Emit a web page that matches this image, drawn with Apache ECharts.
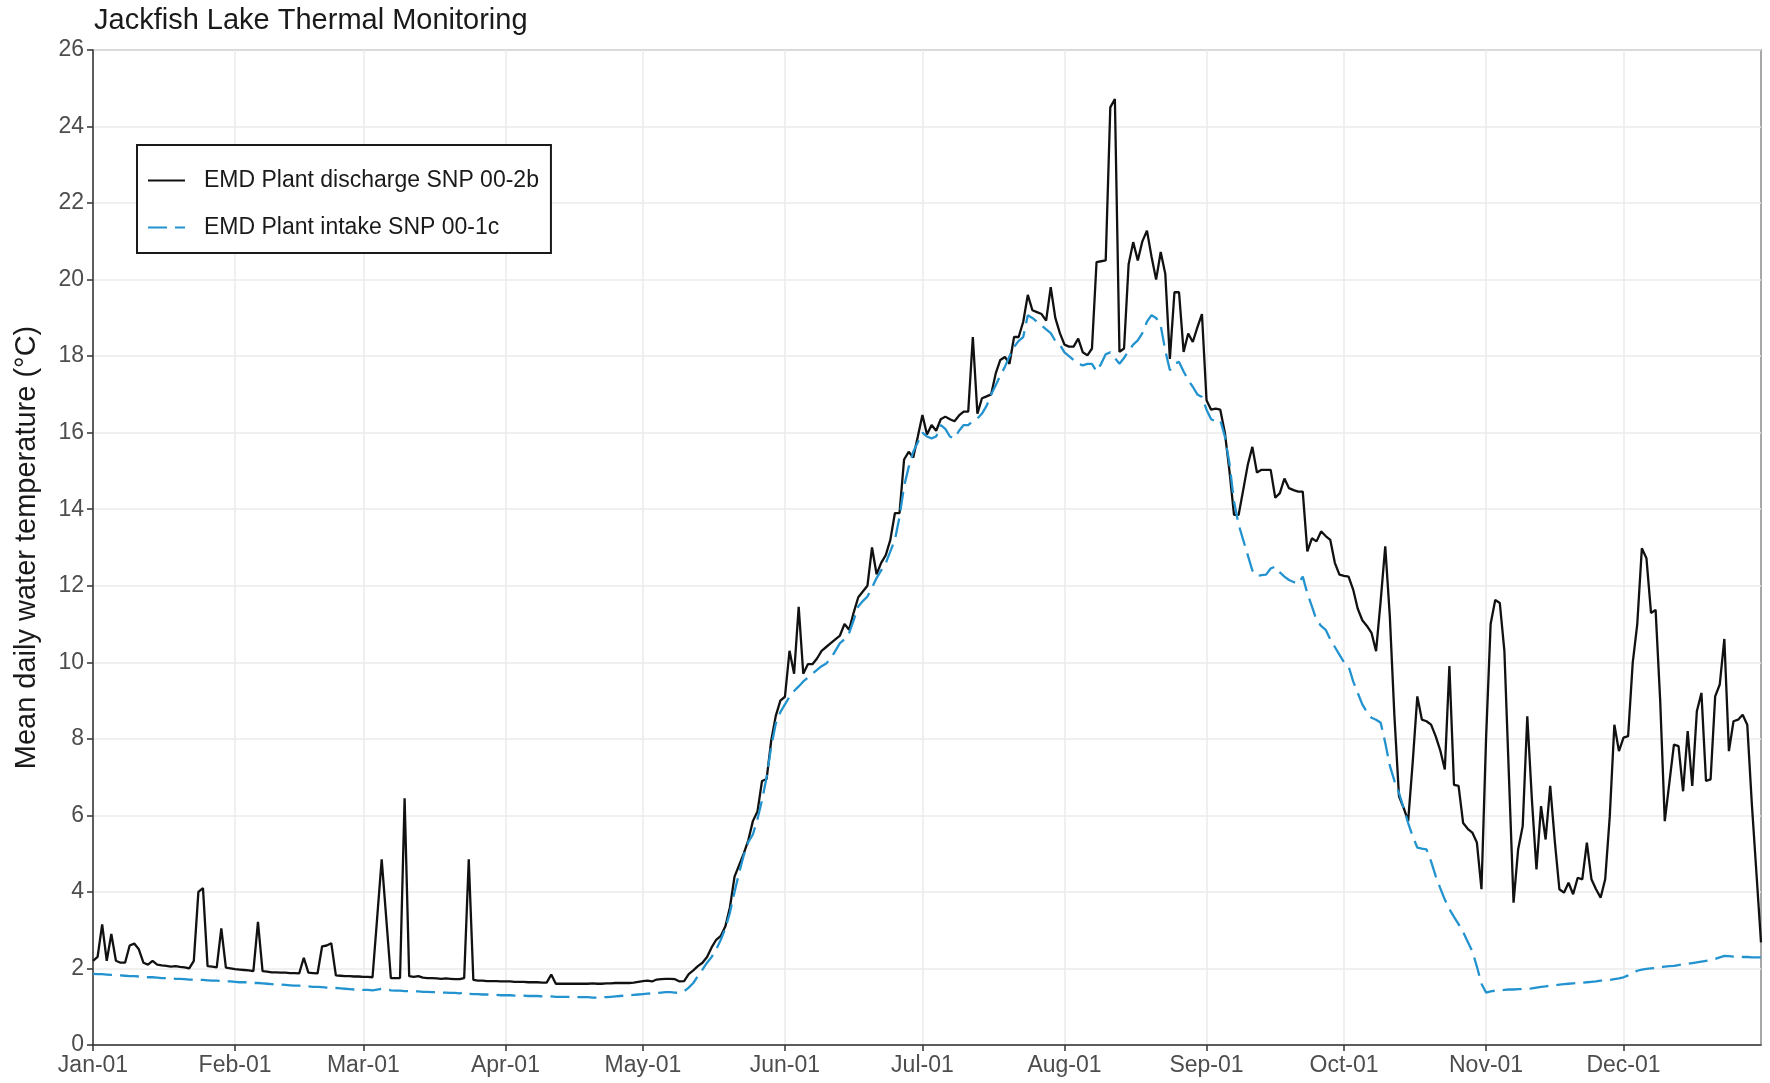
<!DOCTYPE html>
<html>
<head>
<meta charset="utf-8">
<title>Jackfish Lake Thermal Monitoring</title>
<script src="https://cdn.jsdelivr.net/npm/echarts@6/dist/echarts.min.js"></script>
<style>
  html, body { margin: 0; padding: 0; background: #ffffff; }
  #chart { width: 1770px; height: 1083px; }
</style>
</head>
<body>
<div id="chart"></div>
<script>
// Calendar used for the daily category axis (non-leap year)
const monthNames = ['Jan', 'Feb', 'Mar', 'Apr', 'May', 'Jun', 'Jul', 'Aug', 'Sep', 'Oct', 'Nov', 'Dec'];
const monthDays = [31, 28, 31, 30, 31, 30, 31, 31, 30, 31, 30, 31];

const seriesNames = ['EMD Plant discharge SNP 00-2b', 'EMD Plant intake SNP 00-1c'];

// Mean daily water temperature (°C), one value per day, one line per month
const discharge = [
  2.2, 2.3, 3.15, 2.2, 2.9, 2.2, 2.15, 2.15, 2.6, 2.65, 2.5, 2.15, 2.1, 2.2, 2.1, 2.08, 2.07, 2.05, 2.06, 2.04, 2.03, 2.0, 2.2, 4.0, 4.1, 2.06, 2.05, 2.03, 3.05, 2.02, 2.0,
  1.98, 1.97, 1.96, 1.95, 1.93, 3.22, 1.93, 1.92, 1.9, 1.9, 1.89, 1.89, 1.88, 1.88, 1.87, 2.28, 1.89, 1.88, 1.87, 2.58, 2.6, 2.66, 1.82, 1.81, 1.8, 1.8, 1.79, 1.79,
  1.78, 1.78, 1.77, 3.3, 4.85, 3.3, 1.75, 1.75, 1.75, 6.45, 1.8, 1.78, 1.8, 1.76, 1.75, 1.75, 1.74, 1.73, 1.74, 1.73, 1.72, 1.72, 1.75, 4.85, 1.7, 1.68, 1.68, 1.67, 1.67, 1.67, 1.66,
  1.66, 1.66, 1.65, 1.65, 1.65, 1.64, 1.64, 1.64, 1.63, 1.63, 1.84, 1.6, 1.6, 1.6, 1.6, 1.6, 1.6, 1.6, 1.6, 1.61, 1.6, 1.6, 1.61, 1.61, 1.62, 1.62, 1.62, 1.62, 1.63, 1.65,
  1.67, 1.68, 1.66, 1.71, 1.72, 1.73, 1.73, 1.72, 1.66, 1.67, 1.85, 1.95, 2.06, 2.15, 2.3, 2.55, 2.75, 2.85, 3.1, 3.6, 4.4, 4.7, 5.0, 5.35, 5.85, 6.1, 6.9, 6.95, 7.95, 8.6, 9.0,
  9.1, 10.3, 9.7, 11.45, 9.7, 9.95, 9.95, 10.1, 10.3, 10.4, 10.5, 10.6, 10.7, 11.0, 10.85, 11.3, 11.7, 11.85, 12.0, 13.0, 12.3, 12.6, 12.8, 13.2, 13.9, 13.9, 15.3, 15.5, 15.35, 15.9,
  16.46, 15.95, 16.2, 16.05, 16.35, 16.42, 16.35, 16.3, 16.45, 16.55, 16.55, 18.5, 16.5, 16.9, 16.95, 17.0, 17.55, 17.9, 17.98, 17.8, 18.5, 18.5, 18.9, 19.6, 19.2, 19.15, 19.1, 18.93, 19.8, 19.0, 18.6,
  18.3, 18.25, 18.25, 18.46, 18.1, 18.02, 18.2, 20.46, 20.48, 20.5, 24.5, 24.72, 18.11, 18.2, 20.4, 20.98, 20.5, 21.0, 21.28, 20.6, 20.0, 20.72, 20.15, 17.93, 19.67, 19.67, 18.11, 18.59, 18.37, 18.75, 19.1,
  16.85, 16.6, 16.63, 16.6, 16.0, 15.0, 13.85, 13.85, 14.5, 15.16, 15.63, 14.96, 15.03, 15.03, 15.03, 14.3, 14.42, 14.8, 14.55, 14.5, 14.46, 14.46, 12.9, 13.24, 13.16, 13.42, 13.3, 13.2, 12.6, 12.29,
  12.26, 12.24, 11.9, 11.4, 11.1, 10.95, 10.77, 10.29, 11.6, 13.03, 11.2, 8.6, 6.5, 6.2, 5.85, 7.4, 9.11, 8.5, 8.46, 8.37, 8.07, 7.7, 7.2, 9.9, 6.8, 6.77, 5.8, 5.65, 5.55, 5.29, 4.07,
  8.0, 11.0, 11.63, 11.55, 10.3, 7.0, 3.72, 5.11, 5.72, 8.59, 6.42, 4.59, 6.24, 5.37, 6.77, 5.33, 4.07, 3.98, 4.24, 3.94, 4.37, 4.33, 5.29, 4.33, 4.07, 3.85, 4.33, 5.98, 8.37, 7.68,
  8.03, 8.07, 9.98, 11.0, 12.98, 12.72, 11.29, 11.37, 9.0, 5.85, 6.85, 7.85, 7.81, 6.63, 8.2, 6.77, 8.72, 9.2, 6.9, 6.94, 9.11, 9.42, 10.61, 7.68, 8.46, 8.5, 8.63, 8.37, 6.3, 4.5, 2.68
];

const intake = [
  1.86, 1.85, 1.85, 1.84, 1.83, 1.83, 1.82, 1.81, 1.8, 1.8, 1.79, 1.78, 1.77, 1.77, 1.76, 1.75, 1.75, 1.74, 1.73, 1.73, 1.72, 1.71, 1.71, 1.7, 1.7, 1.69, 1.68, 1.68, 1.67, 1.66, 1.66,
  1.65, 1.64, 1.64, 1.63, 1.62, 1.62, 1.61, 1.6, 1.59, 1.58, 1.58, 1.57, 1.56, 1.55, 1.55, 1.54, 1.53, 1.52, 1.52, 1.51, 1.5, 1.49, 1.49, 1.48, 1.47, 1.46, 1.45, 1.45,
  1.44, 1.44, 1.43, 1.45, 1.47, 1.45, 1.43, 1.42, 1.42, 1.41, 1.41, 1.4, 1.4, 1.39, 1.39, 1.38, 1.38, 1.37, 1.37, 1.36, 1.36, 1.35, 1.38, 1.34, 1.33, 1.33, 1.32, 1.32, 1.31, 1.31, 1.3,
  1.3, 1.3, 1.29, 1.29, 1.29, 1.28, 1.28, 1.28, 1.27, 1.27, 1.27, 1.26, 1.26, 1.26, 1.26, 1.25, 1.25, 1.25, 1.25, 1.24, 1.24, 1.25, 1.25, 1.26, 1.27, 1.28, 1.29, 1.3, 1.31, 1.32,
  1.33, 1.34, 1.35, 1.36, 1.37, 1.38, 1.38, 1.37, 1.36, 1.4, 1.5, 1.62, 1.8, 1.97, 2.15, 2.3, 2.5, 2.75, 3.05, 3.46, 4.0, 4.5, 4.95, 5.3, 5.5, 5.9, 6.4, 7.0, 7.8, 8.4, 8.7,
  8.9, 9.1, 9.25, 9.37, 9.5, 9.6, 9.7, 9.8, 9.9, 9.97, 10.1, 10.3, 10.5, 10.6, 10.76, 11.1, 11.46, 11.6, 11.72, 11.95, 12.2, 12.4, 12.59, 12.9, 13.2, 13.8, 14.6, 15.1, 15.5, 15.75,
  16.0, 15.9, 15.85, 15.9, 16.2, 16.1, 15.9, 15.85, 16.05, 16.2, 16.2, 16.3, 16.37, 16.5, 16.7, 17.0, 17.24, 17.5, 17.72, 18.0, 18.24, 18.4, 18.5, 19.07, 19.0, 18.9, 18.8, 18.7, 18.6, 18.4, 18.3,
  18.1, 18.0, 17.9, 17.8, 17.76, 17.8, 17.8, 17.6, 17.8, 18.05, 18.1, 17.95, 17.8, 17.95, 18.15, 18.3, 18.41, 18.6, 18.9, 19.07, 19.0, 18.8, 18.15, 17.63, 17.8, 17.85, 17.6, 17.37, 17.2, 17.0, 16.93,
  16.6, 16.35, 16.3, 16.33, 15.9, 15.2, 14.2, 13.6, 13.2, 12.8, 12.4, 12.25, 12.28, 12.29, 12.45, 12.5, 12.35, 12.24, 12.15, 12.1, 12.05, 12.24, 11.8, 11.46, 11.1, 10.95, 10.85, 10.6, 10.4, 10.2,
  10.0, 9.9, 9.5, 9.2, 8.9, 8.7, 8.55, 8.5, 8.42, 7.9, 7.3, 6.9, 6.59, 6.2, 5.8, 5.45, 5.16, 5.13, 5.11, 4.8, 4.42, 4.1, 3.8, 3.55, 3.35, 3.16, 2.95, 2.7, 2.45, 2.05, 1.6,
  1.37, 1.4, 1.42, 1.43, 1.44, 1.45, 1.45, 1.46, 1.46, 1.47, 1.48, 1.5, 1.52, 1.53, 1.55, 1.56, 1.58, 1.59, 1.6, 1.61, 1.62, 1.63, 1.64, 1.65, 1.66, 1.68, 1.69, 1.7, 1.72, 1.74,
  1.77, 1.82, 1.88, 1.94, 1.97, 1.99, 2.0, 2.01, 2.03, 2.05, 2.06, 2.07, 2.09, 2.11, 2.12, 2.14, 2.16, 2.18, 2.2, 2.22, 2.25, 2.29, 2.33, 2.32, 2.31, 2.31, 2.3, 2.3, 2.29, 2.29, 2.29
];

// y-axis range and step
const yMin = 0, yMax = 26, yStep = 2;

// Daily category labels, e.g. "Jan-01"
const days = [];
monthNames.forEach(function (m, i) {
  for (let d = 1; d <= monthDays[i]; d++) {
    days.push(m + '-' + String(d).padStart(2, '0'));
  }
});
const isMonthStart = function (idx, val) { return /-01$/.test(val); };

const FONT = '"Liberation Sans", Arial, Helvetica, sans-serif';

const chart = echarts.init(document.getElementById('chart'), null, { renderer: 'canvas' });
chart.setOption({
  animation: false,
  backgroundColor: '#ffffff',
  textStyle: { fontFamily: FONT },
  title: {
    text: 'Jackfish Lake Thermal Monitoring',
    left: 94,
    top: 6,
    padding: 0,
    textStyle: { fontFamily: FONT, fontSize: 29, fontWeight: 'normal', color: '#1a1a1a' }
  },
  grid: {
    left: 93, right: 9, top: 50, bottom: 38,
    show: true,
    borderColor: '#8a8a8a',
    borderWidth: 1.5,
    backgroundColor: 'transparent'
  },
  legend: {
    orient: 'vertical',
    left: 137,
    top: 145,
    padding: [24, 12, 14, 10],
    itemGap: 24,
    itemWidth: 37,
    itemHeight: 22,
    // line-only keys, no marker in the middle
    itemStyle: { opacity: 0 },
    borderColor: '#1a1a1a',
    borderWidth: 2,
    backgroundColor: '#ffffff',
    data: seriesNames,
    textStyle: { fontFamily: FONT, fontSize: 23, color: '#1a1a1a', padding: [0, 0, 0, 14] }
  },
  xAxis: {
    type: 'category',
    data: days,
    boundaryGap: false,
    axisLine: { show: true, lineStyle: { color: '#333333', width: 1.5 } },
    axisTick: { show: true, interval: isMonthStart, length: 6, lineStyle: { color: '#333333', width: 1.5 } },
    axisLabel: { interval: isMonthStart, margin: 9, fontFamily: FONT, fontSize: 23, color: '#4d4d4d' },
    splitLine: { show: true, interval: isMonthStart, lineStyle: { color: '#ebebeb', width: 1.5 } }
  },
  yAxis: {
    type: 'value',
    min: yMin, max: yMax, interval: yStep,
    name: 'Mean daily water temperature (°C)',
    nameLocation: 'middle',
    nameGap: 52,
    nameTextStyle: { fontFamily: FONT, fontSize: 29, color: '#1a1a1a' },
    axisLine: { show: true, lineStyle: { color: '#333333', width: 1.5 } },
    axisTick: { show: true, length: 6, lineStyle: { color: '#333333', width: 1.5 } },
    axisLabel: { margin: 9, fontFamily: FONT, fontSize: 23, color: '#4d4d4d' },
    splitLine: { show: true, lineStyle: { color: '#ebebeb', width: 1.5 } }
  },
  series: [
    {
      name: seriesNames[0],
      type: 'line',
      data: discharge,
      symbol: 'none',
      lineStyle: { color: '#111111', width: 2.3 },
      itemStyle: { color: '#111111' }
    },
    {
      name: seriesNames[1],
      type: 'line',
      data: intake,
      symbol: 'none',
      lineStyle: { color: '#2393cf', width: 2.3, type: [19, 8] },
      itemStyle: { color: '#2393cf' }
    }
  ]
});
</script>
</body>
</html>
